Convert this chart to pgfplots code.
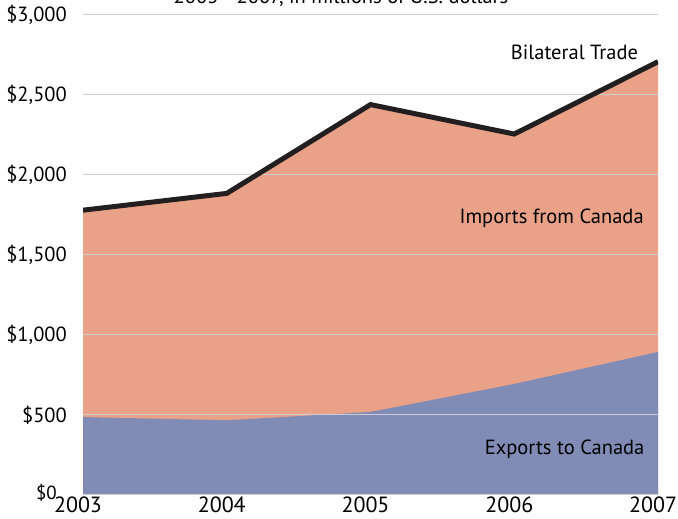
\documentclass[border=0pt]{standalone}
\usepackage{fontspec}
\setmainfont{PT Sans}
\usepackage{pgfplots}
\pgfplotsset{compat=1.18}
\definecolor{impc}{RGB}{233,161,135}
\definecolor{expc}{RGB}{128,140,182}
\definecolor{gridc}{RGB}{205,205,212}
\definecolor{linec}{RGB}{35,31,32}
\begin{document}
\begin{tikzpicture}[x=1bp,y=1bp]
\fontsize{20.5bp}{24bp}\selectfont
\begin{axis}[
  at={(83bp,24bp)}, anchor=south west,
  scale only axis, width=575bp, height=480bp,
  set layers,
  xmin=2003, xmax=2007, ymin=0, ymax=3000,
  axis line style={draw=none},
  ymajorgrids, grid style={gridc, line width=1bp},
  xtick={2003,2004,2005,2006,2007},
  xticklabels={2003,2004,2005,2006,2007},
  ytick={0,500,1000,1500,2000,2500,3000},
  yticklabels={{},{\$500},{\$1,000},{\$1,500},{\$2,000},{\$2,500},{\$3,000}},
  major tick length=0pt,
  yticklabel style={font=\fontsize{20.5bp}{24bp}\selectfont, inner sep=0pt, xshift=-16bp},
  xticklabel style={font=\fontsize{22bp}{26bp}\selectfont, inner sep=0pt, yshift=-2bp, xshift=-5bp},
  clip=true,
]
\addplot[draw=none, fill=impc, on layer=axis background] coordinates {
 (2003,1780) (2004,1885) (2005,2440) (2006,2256) (2007,2708)} \closedcycle;
\addplot[draw=none, fill=expc, on layer=axis background] coordinates {
 (2003,487) (2004,467) (2005,519) (2006,694) (2007,894)} \closedcycle;
\addplot[linec, line width=5bp, line join=miter] coordinates {
 (2003,1780) (2004,1885) (2005,2440) (2006,2256) (2007,2708)};
\node[anchor=east] at (axis cs:2006.91,2769) {Bilateral Trade};
\node at (axis cs:2006.26,1731) {Imports from Canada};
\node at (axis cs:2006.35,287) {Exports to Canada};
\end{axis}
\node[anchor=east, inner sep=0pt, font=\fontsize{19bp}{22bp}\selectfont] at (57,26) {\$0};
\node[anchor=base] at (341,515) {2003 - 2007, in millions of U.S. dollars};
\pgfresetboundingbox
\path[use as bounding box] (0,0) rectangle (678,519);
\end{tikzpicture}
\end{document}
